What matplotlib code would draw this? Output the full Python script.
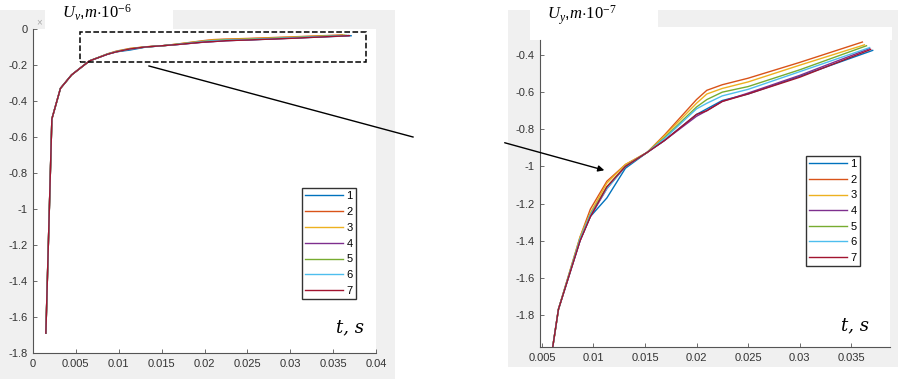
import matplotlib
matplotlib.use('Agg')
import matplotlib.pyplot as plt
from matplotlib.patches import Rectangle, FancyArrowPatch
from matplotlib.lines import Line2D

W, H = 898, 379

# time grid (s), shared points; each series has its own end time
t_common = [0.0015, 0.0022, 0.0032, 0.0045, 0.0060, 0.0066, 0.0087, 0.0097,
            0.0113, 0.0131, 0.0152, 0.0169, 0.0200, 0.0210, 0.0225, 0.0250, 0.0300]
t_end = [0.0371, 0.0361, 0.0363, 0.0368, 0.0365, 0.0368, 0.0369]

# displacement U_y in units of 1e-7 m
head = [-16.9, -5.0, -3.3, -2.55, -1.99, -1.77]
u1 = head + [-1.40, -1.27, -1.17, -1.01, -0.925, -0.86, -0.72, -0.69, -0.645, -0.61, -0.515, -0.375]
u2 = head + [-1.38, -1.23, -1.08, -0.99, -0.925, -0.83, -0.64, -0.59, -0.56, -0.525, -0.44, -0.33]
u3 = head + [-1.38, -1.25, -1.09, -0.99, -0.925, -0.835, -0.66, -0.61, -0.58, -0.545, -0.455, -0.345]
u4 = head + [-1.40, -1.27, -1.12, -1.00, -0.925, -0.86, -0.73, -0.70, -0.65, -0.605, -0.51, -0.365]
u5 = head + [-1.39, -1.26, -1.11, -1.00, -0.925, -0.845, -0.68, -0.64, -0.60, -0.57, -0.48, -0.35]
u6 = head + [-1.39, -1.26, -1.12, -1.00, -0.925, -0.85, -0.69, -0.66, -0.62, -0.585, -0.49, -0.36]
u7 = head + [-1.40, -1.27, -1.11, -1.00, -0.925, -0.86, -0.72, -0.70, -0.65, -0.61, -0.52, -0.37]
series = [u1, u2, u3, u4, u5, u6, u7]
labels = ['1', '2', '3', '4', '5', '6', '7']
colors = ['#0072BD', '#D95319', '#EDB120', '#7E2F8E', '#77AC30', '#4DBEEE', '#A2142F']

left_xticks = [0, 0.005, 0.01, 0.015, 0.02, 0.025, 0.03, 0.035, 0.04]
left_yticks = [-1.8, -1.6, -1.4, -1.2, -1, -0.8, -0.6, -0.4, -0.2, 0]
right_xticks = [0.005, 0.01, 0.015, 0.02, 0.025, 0.03, 0.035]
right_yticks = [-1.8, -1.6, -1.4, -1.2, -1, -0.8, -0.6, -0.4]

plt.rcParams['font.family'] = 'Liberation Sans'
plt.rcParams['mathtext.fontset'] = 'custom'
plt.rcParams['mathtext.rm'] = 'Liberation Serif'
plt.rcParams['mathtext.it'] = 'Liberation Serif:italic'

fig = plt.figure(figsize=(W / 100, H / 100), dpi=100)
fig.patch.set_facecolor('white')


def fbox(x0, y0, x1, y1):
    # pixel box (top-left origin) -> figure fraction rect
    return [x0 / W, 1 - y1 / H, (x1 - x0) / W, (y1 - y0) / H]


def fpt(x, y):
    return (x / W, 1 - y / H)


def bg(x0, y0, x1, y1, color):
    r = fbox(x0, y0, x1, y1)
    fig.add_artist(Rectangle((r[0], r[1]), r[2], r[3], transform=fig.transFigure,
                             facecolor=color, edgecolor='none', zorder=-10))


gray = '#f0f0f0'
# panel backgrounds like the MATLAB figure windows
bg(0, 10, 395, 379, gray)
bg(45, 0, 173, 29, 'white')
bg(508, 10, 898, 367, gray)
bg(530, 0, 658, 40, 'white')
bg(530, 27, 892, 40, 'white')
# legend backdrops
bg(296, 182, 366, 305, '#e8e8e8')
bg(797, 153, 881, 277, '#e8e8e8')


def fmt(v):
    return '%g' % round(v, 4)


def style(ax, xt, yt):
    for s in ['top', 'right']:
        ax.spines[s].set_visible(False)
    for s in ['left', 'bottom']:
        ax.spines[s].set_color('#555555')
        ax.spines[s].set_linewidth(0.8)
    ax.set_xticks(xt)
    ax.set_yticks(yt)
    ax.set_xticklabels([fmt(v) for v in xt])
    ax.set_yticklabels([fmt(v) for v in yt])
    ax.tick_params(direction='in', length=3, width=0.6, color='#555555',
                   labelsize=8, labelcolor='#333333', pad=4)


# left axes: full response, 1e-6 m
ax1 = fig.add_axes(fbox(33, 29, 376, 353))
for u, te, c, lab in zip(series, t_end, colors, labels):
    ax1.plot(t_common + [te], [v / 10 for v in u], color=c, lw=1.0, label=lab)
ax1.set_xlim(0, 0.04)
ax1.set_ylim(-1.8, 0)
style(ax1, left_xticks, left_yticks)
ax1.add_patch(Rectangle((0.0055, -0.183), 0.0333, 0.166, fill=False, ls='--',
                        lw=1.1, edgecolor='black', clip_on=False, zorder=5))
leg1 = ax1.legend(loc='upper left', bbox_to_anchor=fpt(302, 188), bbox_transform=fig.transFigure,
                  borderaxespad=0, fontsize=8, handlelength=3.4, handletextpad=0.3,
                  labelspacing=0.52, borderpad=0.3, fancybox=False, framealpha=1,
                  edgecolor='#333333')
leg1.get_frame().set_linewidth(1.0)

# right axes: zoomed part, 1e-7 m
ax2 = fig.add_axes(fbox(540, 40, 890, 347))
for u, te, c, lab in zip(series, t_end, colors, labels):
    ax2.plot(t_common + [te], u, color=c, lw=1.0, label=lab)
ax2.set_xlim(0.00481, 0.03878)
ax2.set_ylim(-1.973, -0.319)
style(ax2, right_xticks, right_yticks)
leg2 = ax2.legend(loc='upper left', bbox_to_anchor=fpt(806, 156), bbox_transform=fig.transFigure,
                  borderaxespad=0, fontsize=8, handlelength=3.4, handletextpad=0.3,
                  labelspacing=0.5, borderpad=0.3, fancybox=False, framealpha=1,
                  edgecolor='#333333')
leg2.get_frame().set_linewidth(1.0)

# axis captions
fig.text(*fpt(62, 13), r'$U_v$,$m{\cdot}10^{-6}$', fontsize=12, va='center', ha='left')
fig.text(*fpt(547, 15), r'$U_y$,$m{\cdot}10^{-7}$', fontsize=12, va='center', ha='left')
fig.text(*fpt(36, 22), '\u00d7', fontsize=7, color='#aaaaaa', va='center', ha='left')
fig.text(*fpt(336, 327), 't, s', fontsize=13, family='DejaVu Serif', style='italic', va='center')
fig.text(*fpt(841, 325), 't, s', fontsize=13, family='DejaVu Serif', style='italic', va='center')

# connector from zoom box to the enlarged view
fig.add_artist(Line2D([149 / W, 413 / W], [1 - 66 / H, 1 - 137 / H], color='black', lw=1.0,
                      transform=fig.transFigure))
fig.add_artist(FancyArrowPatch(fpt(502, 142), fpt(607, 171), transform=fig.transFigure,
                               arrowstyle='-|>', mutation_scale=9, color='black', lw=1.0))

plt.savefig('out.png', dpi=100)
